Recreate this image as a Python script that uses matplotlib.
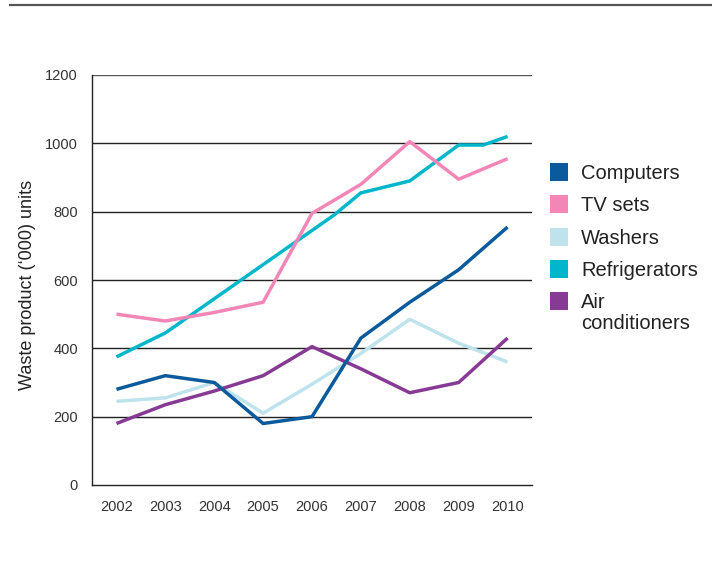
import matplotlib.pyplot as plt
from matplotlib.lines import Line2D
from matplotlib.patches import Rectangle

plt.rcParams['font.family'] = ['Liberation Sans', 'DejaVu Sans']

years = [2002, 2003, 2004, 2005, 2006, 2007, 2008, 2009, 2010]
computers = [280, 320, 300, 180, 200, 430, 535, 630, 755]
tv_sets = [500, 480, 505, 535, 795, 880, 1005, 895, 955]
washers = [245, 255, 300, 210, 295, 385, 485, 415, 360]
# refrigerators have two extra kinks between the yearly points
fridge_years = [2002, 2003, 2004, 2005, 2006, 2006.45, 2007, 2008, 2009, 2009.5, 2010]
refrigerators = [375, 445, 545, 645, 745, 790, 855, 890, 995, 995, 1020]
air_con = [180, 235, 275, 320, 405, 340, 270, 300, 430]

names = ['Computers', 'TV sets', 'Washers', 'Refrigerators', 'Air\nconditioners']
colors = ['#0a5a9c', '#f287b7', '#bfe3ec', '#00b6cb', '#873a93']
yticks = [0, 200, 400, 600, 800, 1000, 1200]

W, H = 712, 568
fig = plt.figure(figsize=(W / 100, H / 100), dpi=100)
ax = fig.add_axes([92 / W, 83 / H, 440 / W, 410 / H])

# rule across the top of the page
fig.add_artist(Line2D([10 / W, 1.0], [1 - 5 / H, 1 - 5 / H],
                      color='#555555', lw=1.6, transform=fig.transFigure))

for yv in yticks[1:]:
    ax.axhline(yv, color='#222222' if yv < 1200 else '#555555', lw=1.0, zorder=1)

series = [(years, computers), (years, tv_sets), (years, washers),
          (fridge_years, refrigerators), (years, air_con)]
draw_order = [2, 4, 0, 3, 1]
for i in draw_order:
    xs, ys = series[i]
    ax.plot(xs, ys, color=colors[i], lw=2.5, solid_capstyle='butt', zorder=3)

ax.set_xlim(2001.5, 2010.5)
ax.set_ylim(0, 1200)
ax.set_xticks(years)
ax.set_xticklabels([str(y) for y in years])
ax.set_yticks(yticks)
ax.tick_params(axis='both', length=0, labelsize=10.5, colors='#333333')
ax.tick_params(axis='x', pad=11)
ax.tick_params(axis='y', pad=10)
for s in ['top', 'right']:
    ax.spines[s].set_visible(False)
for s in ['left', 'bottom']:
    ax.spines[s].set_color('#222222')
    ax.spines[s].set_linewidth(1.0)

fig.text(28 / W, 1 - 285 / H, 'Waste product (\u2018000) units', fontsize=13,
         color='#222222', rotation=90, ha='center', va='center')

# legend: square swatch aligned with the first line of each label
row_y = [172, 204, 237, 269, 301]
for name, c, ry in zip(names, colors, row_y):
    fig.add_artist(Rectangle((550 / W, 1 - (ry + 9) / H), 18 / W, 18 / H,
                             facecolor=c, edgecolor='none', transform=fig.transFigure))
    fig.text(581 / W, 1 - (ry - 8) / H, name, fontsize=14.5, color='#222222',
             va='top', ha='left', linespacing=1.15)

fig.savefig('out.png', dpi=100)
